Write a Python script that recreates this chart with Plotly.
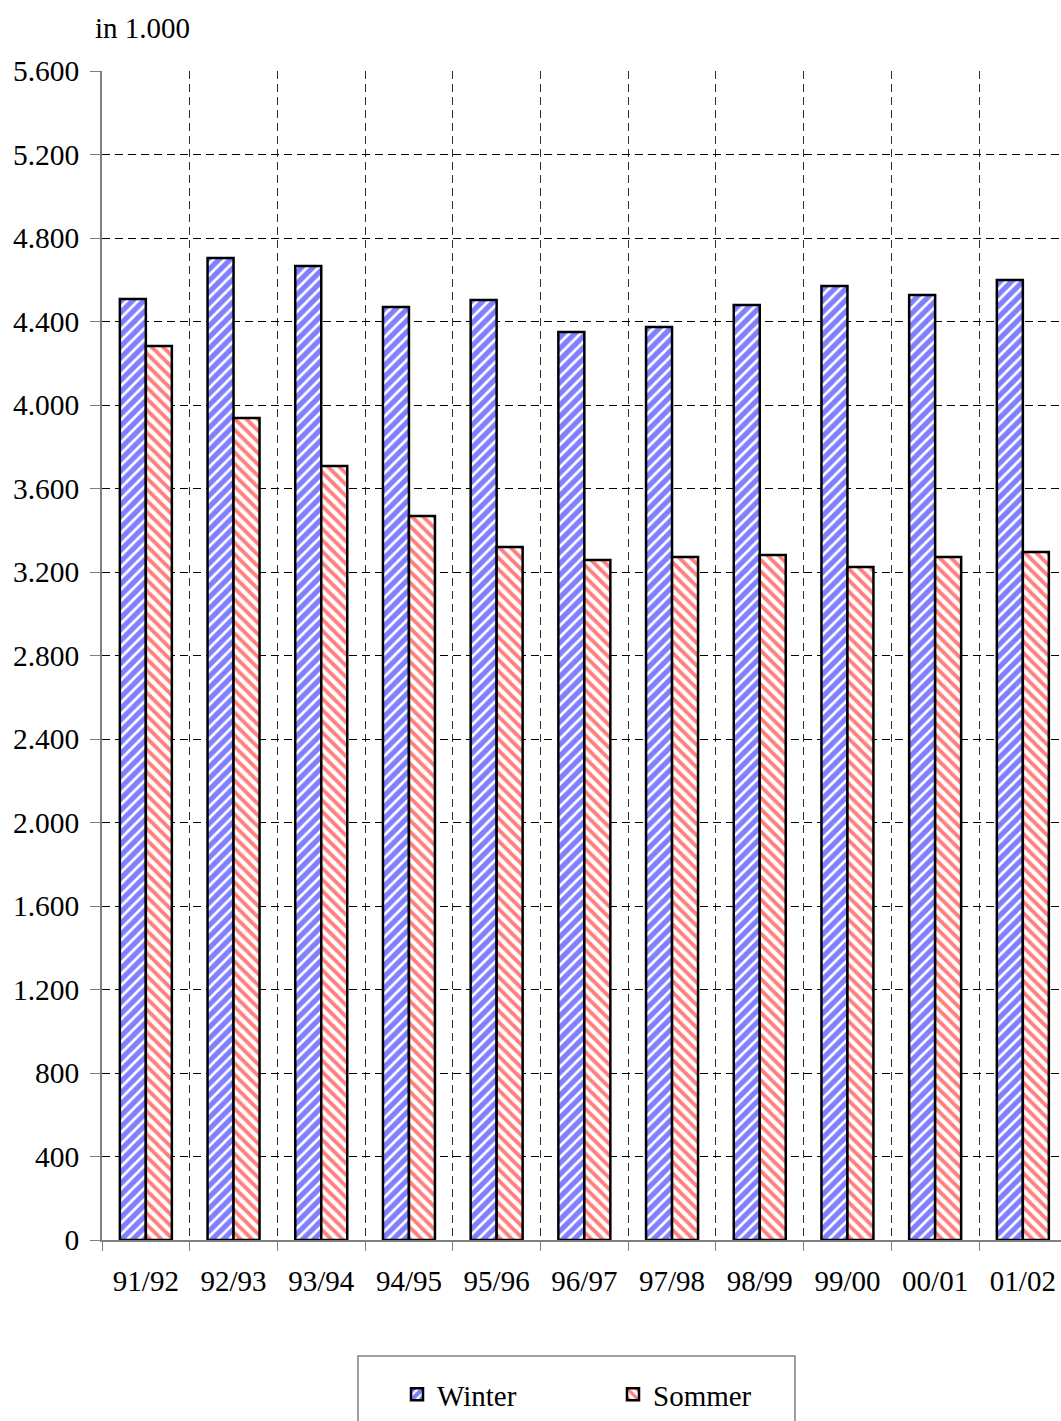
import plotly.graph_objects as go

# Seasons (winter/summer half-years) and values in thousands
seasons = ["91/92", "92/93", "93/94", "94/95", "95/96", "96/97",
           "97/98", "98/99", "99/00", "00/01", "01/02"]
winter = [4508, 4704, 4666, 4469, 4503, 4350, 4374, 4479, 4570, 4527, 4599]
sommer = [4283, 3938, 3708, 3468, 3320, 3257, 3272, 3281, 3224, 3272, 3296]

y_ticks = [0, 400, 800, 1200, 1600, 2000, 2400, 2800, 3200, 3600, 4000,
           4400, 4800, 5200, 5600]
y_tick_text = ["0", "400", "800", "1.200", "1.600", "2.000", "2.400", "2.800",
               "3.200", "3.600", "4.000", "4.400", "4.800", "5.200", "5.600"]

FONT = "Liberation Serif, Times New Roman, serif"
W, H = 1061, 1421
ML, MT, MB = 102, 71, 181
plot_w = W - ML
plot_h = H - MT - MB


def px_x(px):
    return (px - ML) / plot_w


def px_y(py):
    return (H - MB - py) / plot_h


fig = go.Figure()
fig.add_trace(go.Bar(
    name="Winter", x=seasons, y=winter,
    marker=dict(color="white",
                line=dict(color="black", width=2.5),
                pattern=dict(shape="/", fgcolor="#0000ff", bgcolor="white",
                             size=8, solidity=0.66, fillmode="overlay")),
))
fig.add_trace(go.Bar(
    name="Sommer", x=seasons, y=sommer,
    marker=dict(color="white",
                line=dict(color="black", width=2.5),
                pattern=dict(shape="\\", fgcolor="#ff0000", bgcolor="white",
                             size=8, solidity=0.48, fillmode="overlay")),
))

fig.update_layout(
    width=W, height=H,
    margin=dict(l=ML, r=0, t=MT, b=MB, pad=0),
    paper_bgcolor="white", plot_bgcolor="white",
    font=dict(family=FONT, size=29, color="black"),
    barmode="group", bargap=0.407, bargroupgap=0,
    showlegend=True,
    legend=dict(orientation="h", x=px_x(397), y=px_y(1369),
                xanchor="left", yanchor="top",
                font=dict(family=FONT, size=29, color="black"),
                bgcolor="rgba(0,0,0,0)", borderwidth=0,
                entrywidth=171, traceorder="normal"),
    xaxis=dict(
        type="category", range=[-0.5, 10.435],
        tickson="boundaries", ticks="outside", ticklen=9, tickcolor="#808080",
        tickwidth=1, showline=True, linecolor="#808080", linewidth=1.5,
        showgrid=True, gridcolor="#303030", gridwidth=1, griddash="8px,5px",
        tickfont=dict(family=FONT, size=29), ticklabelstandoff=14,
    ),
    yaxis=dict(
        range=[0, 5600], tickvals=y_ticks, ticktext=y_tick_text,
        ticks="outside", ticklen=10, tickcolor="#808080", tickwidth=1,
        showline=True, linecolor="#808080", linewidth=1.5,
        showgrid=True, gridcolor="black", gridwidth=1, griddash="8px,5px",
        zeroline=False, tickfont=dict(family=FONT, size=29.5),
        ticklabelstandoff=5,
    ),
    annotations=[dict(
        text="in 1.000", xref="paper", yref="paper",
        x=px_x(93), y=px_y(28), xanchor="left", yanchor="middle",
        showarrow=False, font=dict(family=FONT, size=29, color="black"),
    )],
    shapes=[dict(
        type="rect", xref="paper", yref="paper",
        x0=px_x(358), x1=px_x(795), y0=px_y(1356), y1=px_y(1440),
        line=dict(color="#808080", width=1.5), fillcolor="rgba(0,0,0,0)",
    )],
)

fig.write_html("out.html")
